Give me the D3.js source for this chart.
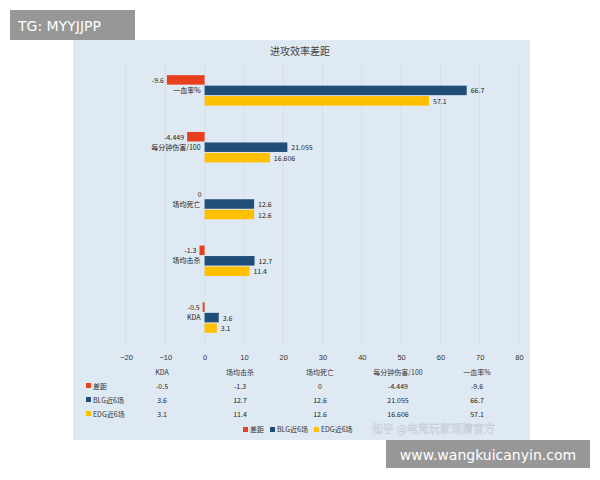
<!DOCTYPE html><html><head><meta charset="utf-8"><script src="https://d3js.org/d3.v7.min.js"></script>
<style>body{margin:0;background:#fff}svg{display:block;font-family:"Noto Sans CJK SC","Noto Sans",sans-serif}</style></head><body><svg width="600" height="480"></svg><script>
const categories=["一血率%","每分钟伤害/100","场均死亡","场均击杀","KDA"];
const seriesNames=["差距","BLG近6场","EDG近6场"];
const diff=[-9.6,-4.449,0,-1.3,-0.5];
const blg=[66.7,21.055,12.6,12.7,3.6];
const edg=[57.1,16.606,12.6,11.4,3.1];
const diffLabels=["-9.6","-4.449","0","-1.3","-0.5"];
const blgLabels=["66.7","21.055","12.6","12.7","3.6"];
const edgLabels=["57.1","16.606","12.6","11.4","3.1"];
const xTicks=[-20,-10,0,10,20,30,40,50,60,70,80];
const colors=["#e8401c","#1f4e79","#ffc000"];
const svg=d3.select("svg");
svg.append("rect").attr("x",73).attr("y",40).attr("width",457).attr("height",400).attr("fill","#dfe9f3");
const x=d3.scaleLinear().domain([-20,80]).range([126,519]);
const y=d3.scaleBand().domain(categories).range([62,346]);
svg.append("text").attr("x",300).attr("y",55).attr("text-anchor","middle").attr("font-size",10).attr("fill","#444").text("进攻效率差距");
const g=svg.append("g");
xTicks.forEach(t=>g.append("line").attr("x1",x(t)).attr("x2",x(t)).attr("y1",62).attr("y2",346).attr("stroke","#d0dbe6").attr("stroke-width",0.7));
const ax=svg.append("g").attr("transform","translate(0,357)").call(d3.axisBottom(x).tickValues(xTicks).tickSize(0));
ax.select(".domain").remove();ax.selectAll("text").attr("font-size",7.5).attr("fill","#333").attr("dy",0);
const series=[diff,blg,edg],labels=[diffLabels,blgLabels,edgLabels];
const bh=10.5;
categories.forEach((c,i)=>{
  const cy=y(c)+y.bandwidth()/2;
  series.forEach((s,k)=>{
    const v=s[i],yy=cy-bh*1.5+k*bh+0.5;
    g.append("rect").attr("x",x(Math.min(0,v))).attr("y",yy).attr("width",Math.abs(x(v)-x(0))).attr("height",bh-1).attr("fill",colors[k]);
    g.append("text").attr("x",k==0?x(Math.min(0,v))-3:x(v)+4).attr("y",yy+bh/2+2.5).attr("text-anchor",k==0?"end":"start").attr("font-size",7).attr("fill","#222").text(labels[k][i]);
  });
  g.append("text").attr("x",x(0)-4).attr("y",cy+2.5).attr("text-anchor","end").attr("font-size",7).attr("fill","#222").text(c);
});
const cols=[...categories].reverse();
const colX=[162,240,320,398,477];
const rowY=[375,389,403,417];
cols.forEach((c,j)=>svg.append("text").attr("x",colX[j]).attr("y",rowY[0]).attr("text-anchor","middle").attr("font-size",7).attr("fill","#333").text(c));
series.forEach((s,k)=>{
  svg.append("rect").attr("x",86).attr("y",rowY[k+1]-6).attr("width",5).attr("height",5).attr("fill",colors[k]);
  svg.append("text").attr("x",93).attr("y",rowY[k+1]).attr("font-size",7).attr("fill","#333").text(seriesNames[k]);
  [...labels[k]].reverse().forEach((v,j)=>svg.append("text").attr("x",colX[j]).attr("y",rowY[k+1]).attr("text-anchor","middle").attr("font-size",7).attr("fill","#222").text(v));
});
let lx=243;
seriesNames.forEach((n,k)=>{
  svg.append("rect").attr("x",lx).attr("y",427).attr("width",5).attr("height",5).attr("fill",colors[k]);
  const t=svg.append("text").attr("x",lx+7).attr("y",432).attr("font-size",7).attr("fill","#333").text(n);
  lx+=7+t.node().getComputedTextLength()+6;
});
svg.append("text").attr("x",372).attr("y",433).attr("font-size",11).attr("fill","#fff").attr("opacity",0.85).attr("stroke","#b8c4d0").attr("stroke-width",0.5).text("知乎 @电竞玩家观猜官方");
svg.append("rect").attr("x",10).attr("y",10).attr("width",125).attr("height",30).attr("fill","#8c8c8c").attr("opacity",0.9);
svg.append("text").attr("x",18).attr("y",31).attr("font-size",14).attr("fill","#fff").attr("font-family","DejaVu Sans").text("TG: MYYJJPP");
svg.append("rect").attr("x",386).attr("y",440).attr("width",204).attr("height",28).attr("fill","#8c8c8c").attr("opacity",0.9);
svg.append("text").attr("x",488).attr("y",460).attr("text-anchor","middle").attr("font-size",14).attr("fill","#fff").attr("font-family","DejaVu Sans").text("www.wangkuicanyin.com");
</script></body></html>
